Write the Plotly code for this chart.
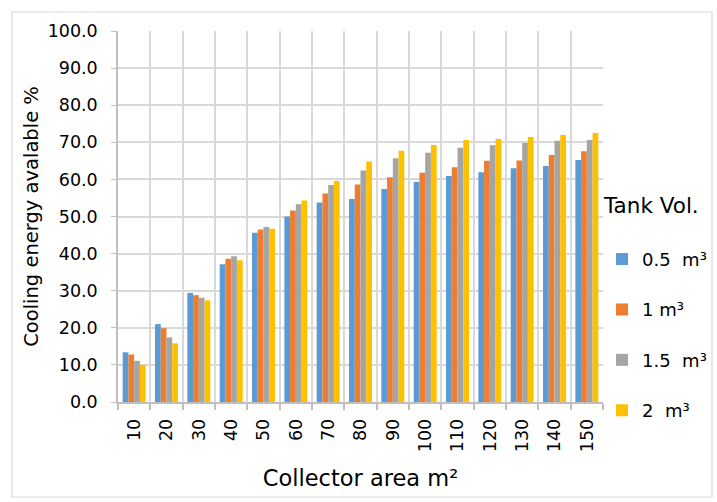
import plotly.graph_objects as go

areas = ["10", "20", "30", "40", "50", "60", "70", "80", "90", "100", "110", "120", "130", "140", "150"]
vol_05 = [13.4, 21.0, 29.4, 37.1, 45.6, 50.0, 53.8, 54.7, 57.4, 59.3, 60.9, 61.9, 63.0, 63.6, 65.2]
vol_1 = [12.8, 19.9, 28.8, 38.6, 46.5, 51.6, 56.2, 58.6, 60.6, 61.8, 63.3, 65.0, 65.1, 66.6, 67.6]
vol_15 = [11.1, 17.4, 28.1, 39.3, 47.2, 53.3, 58.5, 62.4, 65.7, 67.2, 68.5, 69.2, 69.8, 70.4, 70.6]
vol_2 = [10.0, 15.8, 27.4, 38.2, 46.7, 54.3, 59.6, 64.8, 67.7, 69.3, 70.6, 70.9, 71.4, 72.0, 72.5]
series_names = ["0.5\u00a0 m³", "1 m³", "1.5\u00a0 m³", "2\u00a0 m³"]
colors = ["#5B9BD5", "#ED7D31", "#A5A5A5", "#FFC000"]

FONT = "'DejaVu Sans', sans-serif"
xpos = list(range(1, len(areas) + 1))

fig = go.Figure()
for name, vals, c in zip(series_names, [vol_05, vol_1, vol_15, vol_2], colors):
    fig.add_trace(go.Bar(x=xpos, y=vals, name=name, marker_color=c,
                         marker_line_width=0, legendgroup=name))

fig.update_layout(
    width=717, height=502,
    paper_bgcolor="white", plot_bgcolor="white",
    margin=dict(l=118, r=114, t=31, b=100, autoexpand=False),
    barmode="group", bargap=0.29, bargroupgap=0,
    font=dict(family=FONT, size=17, color="#000000"),
    showlegend=True,
    legend=dict(
        x=0.998, xanchor="left", y=0.585, yanchor="top",
        title=dict(text="Tank Vol.<br> ", font=dict(size=21.5), side="top"),
        traceorder="grouped", tracegroupgap=24,
        font=dict(size=18), itemwidth=30,
        bgcolor="rgba(0,0,0,0)",
    ),
    xaxis=dict(
        range=[0.5, len(areas) + 0.5], automargin=False,
        tickmode="array", tickvals=xpos, ticktext=areas,
        tickangle=-90, ticks="", showgrid=False,
        showline=True, linecolor="#BFBFBF", linewidth=1.5,
        ticklabelstandoff=8,
        minor=dict(tickmode="array", tickvals=[i + 0.5 for i in range(0, len(areas) + 1)],
                   showgrid=True, gridcolor="#D9D9D9", gridwidth=1.5,
                   ticks="outside", ticklen=6, tickcolor="#BFBFBF", tickwidth=1.5),
        title=dict(text="Collector area m²", font=dict(size=22.5), standoff=19),
        tickfont=dict(size=17.5), zeroline=False,
    ),
    yaxis=dict(
        range=[0, 100], dtick=10, tickformat=".1f", automargin=False,
        showgrid=True, gridcolor="#D9D9D9", gridwidth=1.5,
        showline=True, linecolor="#BFBFBF", linewidth=1.5,
        ticks="outside", ticklen=5, tickcolor="#BFBFBF",
        ticklabelstandoff=10,
        title=dict(text="Cooling energy avalable %", font=dict(size=19.5), standoff=4),
        tickfont=dict(size=17.5), zeroline=False,
    ),
    shapes=[dict(type="rect", xref="paper", yref="paper",
                 x0=-0.2186, x1=1.2247, y0=-0.256, y1=1.0512,
                 line=dict(color="#D9D9D9", width=1.2), fillcolor="rgba(0,0,0,0)", layer="below")],
)

fig.write_html("out.html", config={"displayModeBar": False},
               post_script="document.body.style.margin='0';")
